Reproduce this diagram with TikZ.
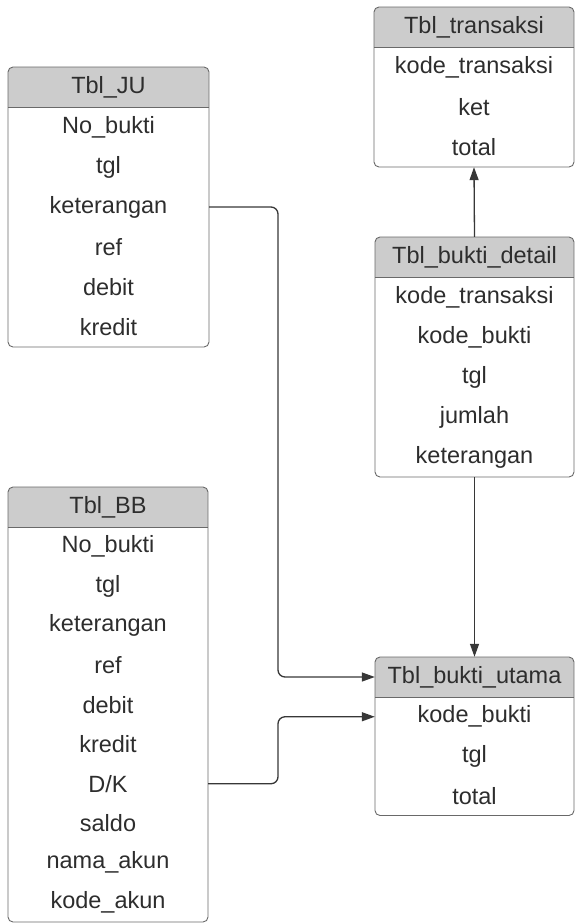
\documentclass[tikz,border=0pt]{standalone}
\usepackage{fontspec}
\setmainfont{Liberation Sans}
\usetikzlibrary{arrows.meta}
\definecolor{hdr}{RGB}{204,204,204}
\definecolor{txt}{RGB}{45,45,45}
\definecolor{brd}{RGB}{105,105,105}
\definecolor{cnx}{RGB}{55,55,55}
\tikzset{
  tblline/.style={draw=brd, line width=0.9pt},
  celltext/.style={inner sep=0pt, text=txt, font=\fontsize{23.5}{27}\selectfont, anchor=center},
  boxnode/.style={inner sep=0pt, draw=none},
  link/.style={draw=cnx, line width=1.3pt, rounded corners=7pt, -{Triangle[length=13pt,width=9pt]}},
}
% #1 id, #2 x-left, #3 x-right, #4 top, #5 row height, #6 number of rows, #7 title, #8 rows
\newcommand\erdtable[8]{%
  \pgfmathsetmacro\erdW{#3-#2}%
  \pgfmathsetmacro\erdCX{(#2+#3)/2}%
  \pgfmathsetmacro\erdB{#4+40+#5*#6}%
  \pgfmathsetmacro\erdH{\erdB-#4}%
  \begin{scope}
    \clip[rounded corners=5pt] (#2,#4) rectangle (#3,\erdB);
    \fill[hdr] (#2,#4) rectangle (#3,#4+40);
  \end{scope}
  \draw[tblline, rounded corners=5pt] (#2,#4) rectangle (#3,\erdB);
  \draw[tblline] (#2,#4+40) -- (#3,#4+40);
  \node[boxnode, minimum width=\erdW pt, minimum height=\erdH pt] (#1) at (\erdCX,{(#4+\erdB)/2}) {};
  \node[celltext, minimum width=\erdW pt, minimum height=40pt] (#1-h) at (\erdCX,#4+20) {#7};
  \foreach \rname/\rtext [count=\k] in {#8} {
    \node[celltext, minimum width=\erdW pt, minimum height=#5 pt] (#1-\rname) at (\erdCX,{#4+40+#5*(\k-0.5)}) {\rtext};
  }%
}
\begin{document}
\begin{tikzpicture}[x=1pt,y=-1pt]
\useasboundingbox (0,0) rectangle (576,924);

\erdtable{ju}{8}{209}{67}{40}{6}{Tbl\_JU}{nob/No\_bukti, tgl/tgl, ket/keterangan, ref/ref, deb/debit, kre/kredit}
\erdtable{tra}{374}{574}{7}{40}{3}{Tbl\_transaksi}{kode/kode\_transaksi, ket/ket, tot/total}
\erdtable{det}{375}{574}{237}{40}{5}{Tbl\_bukti\_detail}{kt/kode\_transaksi, kb/kode\_bukti, tgl/tgl, jml/jumlah, ket/keterangan}
\erdtable{bb}{8}{208}{487}{39.5}{10}{Tbl\_BB}{nob/No\_bukti, tgl/tgl, ket/keterangan, ref/ref, deb/debit, kre/kredit, dk/{D/K}, sal/saldo, nama/nama\_akun, kode/kode\_akun}
\erdtable{ut}{375}{574}{657}{39.5}{3}{Tbl\_bukti\_utama}{kb/kode\_bukti, tgl/tgl, tot/total}

\coordinate (bend) at (278,0);

\draw[link] (det.north) -- (tra.south);
\draw[link] (det.south) -- (ut.north);
\draw[link] (ju-ket.east) -- (ju-ket.east -| bend) |- (ut-h.west);
\draw[link] (bb-dk.east) -- (bb-dk.east -| bend) |- (ut-kb.west);
\end{tikzpicture}
\end{document}
